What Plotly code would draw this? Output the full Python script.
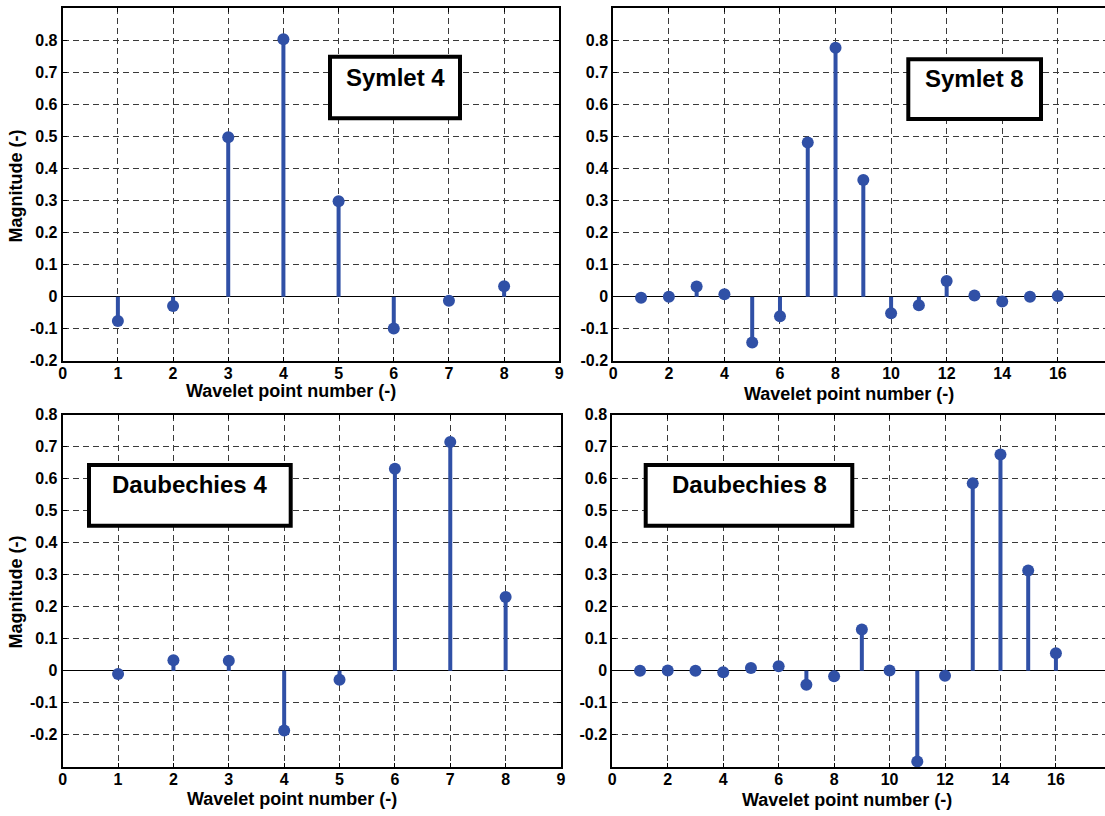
import plotly.graph_objects as go

# ---------------- data ----------------
sym4_points = [1, 2, 3, 4, 5, 6, 7, 8]
sym4_values = [-0.0758, -0.0296, 0.4976, 0.8037, 0.2979, -0.0992, -0.0126, 0.0322]

sym8_points = list(range(1, 17))
sym8_values = [-0.0034, -0.0005, 0.0317, 0.0076, -0.1433, -0.0613, 0.4814, 0.7772,
               0.3644, -0.0519, -0.0272, 0.0491, 0.0038, -0.0150, -0.0003, 0.0019]

db4_points = [1, 2, 3, 4, 5, 6, 7, 8]
db4_values = [-0.0106, 0.0329, 0.0308, -0.1870, -0.0280, 0.6309, 0.7148, 0.2304]

db8_points = list(range(1, 17))
db8_values = [-0.0001, 0.0007, -0.0004, -0.0049, 0.0087, 0.0140, -0.0441, -0.0174,
              0.1287, 0.0005, -0.2840, -0.0158, 0.5854, 0.6756, 0.3129, 0.0544]

panel_titles = ["Symlet 4", "Symlet 8", "Daubechies 4", "Daubechies 8"]
x_title = "Wavelet point number (-)"
y_title = "Magnitude (-)"

y_tick_vals = [-0.2, -0.1, 0, 0.1, 0.2, 0.3, 0.4, 0.5, 0.6, 0.7, 0.8]
y_tick_text = ["-0.2", "-0.1", "0", "0.1", "0.2", "0.3", "0.4", "0.5", "0.6", "0.7", "0.8"]
x_ticks_short = [0, 1, 2, 3, 4, 5, 6, 7, 8, 9]
x_ticks_long = [0, 2, 4, 6, 8, 10, 12, 14, 16]

# ---------------- layout helpers ----------------
W, H = 1105, 816
def px(x):
    return x / W
def py(y):
    return 1 - y / H

STEM = "#3050A6"
FONT = "Liberation Sans, Arial, Helvetica, sans-serif"

fig = go.Figure()

series = [
    (sym4_points, sym4_values, "x", "y"),
    (sym8_points, sym8_values, "x2", "y2"),
    (db4_points, db4_values, "x3", "y3"),
    (db8_points, db8_values, "x4", "y4"),
]
for pts, vals, xa, ya in series:
    sx, sy = [], []
    for p, v in zip(pts, vals):
        sx += [p, p, None]
        sy += [0, v, None]
    fig.add_trace(go.Scatter(x=sx, y=sy, mode="lines", xaxis=xa, yaxis=ya,
                             line=dict(color=STEM, width=4), hoverinfo="skip",
                             showlegend=False))
    fig.add_trace(go.Scatter(x=pts, y=vals, mode="markers", xaxis=xa, yaxis=ya,
                             marker=dict(color=STEM, size=12, line=dict(width=0)),
                             showlegend=False, cliponaxis=False))

tickfont = dict(family=FONT, size=16, color="black", weight="bold")

def xaxis(domain, rng, ticks, anchor):
    return dict(domain=domain, range=rng, anchor=anchor, automargin=False,
                tickmode="array", tickvals=ticks, ticktext=[str(t) for t in ticks],
                showgrid=True, gridcolor="#3a3a3a", gridwidth=1, griddash="6px,4px",
                zeroline=False, showline=True, linecolor="black", linewidth=2,
                mirror="ticks", ticks="inside", ticklen=4, tickcolor="black",
                tickfont=tickfont, ticklabelstandoff=-3, fixedrange=True)

def yaxis(domain, rng, anchor, mirror):
    return dict(domain=domain, range=rng, anchor=anchor, automargin=False,
                tickmode="array", tickvals=y_tick_vals, ticktext=y_tick_text,
                showgrid=True, gridcolor="#3a3a3a", gridwidth=1, griddash="6px,4px",
                zeroline=True, zerolinecolor="black", zerolinewidth=1,
                showline=True, linecolor="black", linewidth=2,
                mirror=mirror, ticks="inside", ticklen=4, tickcolor="black",
                tickfont=tickfont, fixedrange=True)

top_dom = [py(360.7), py(8.3)]
bot_dom = [py(766.7), py(414.7)]

fig.update_layout(
    width=W, height=H,
    margin=dict(l=0, r=0, t=0, b=0, autoexpand=False),
    paper_bgcolor="white", plot_bgcolor="white",
    xaxis=xaxis([px(62.7), px(559.3)], [0, 9], x_ticks_short, "y"),
    yaxis=yaxis(top_dom, [-0.2, 0.9], "x", "ticks"),
    xaxis2=xaxis([px(613.3), 1.0], [0, 17.7], x_ticks_long, "y2"),
    yaxis2=yaxis(top_dom, [-0.2, 0.9], "x2", False),
    xaxis3=xaxis([px(62.7), px(561)], [0, 9], x_ticks_short, "y3"),
    yaxis3=yaxis(bot_dom, [-0.3, 0.8], "x3", "ticks"),
    xaxis4=xaxis([px(612.3), 1.0], [0, 17.77], x_ticks_long, "y4"),
    yaxis4=yaxis(bot_dom, [-0.3, 0.8], "x4", False),
)

# label boxes
boxes = [
    (330, 56.7, 460, 118.3, 77.7),
    (908.3, 59.3, 1041, 119, 79),
    (89, 465, 290.7, 525.7, 484.3),
    (645.7, 465, 852.3, 525.7, 484.3),
]
shapes, annotations = [], []
for (x0, y0, x1, y1, ty), title in zip(boxes, panel_titles):
    shapes.append(dict(type="rect", xref="paper", yref="paper",
                       x0=px(x0), x1=px(x1), y0=py(y1), y1=py(y0),
                       line=dict(color="black", width=4), fillcolor="white",
                       layer="above"))
    annotations.append(dict(xref="paper", yref="paper", x=px((x0 + x1) / 2), y=py(ty),
                            text=title, showarrow=False, xanchor="center", yanchor="middle",
                            font=dict(family=FONT, size=24, color="black", weight="bold")))

titlefont = dict(family=FONT, size=18, color="black", weight="bold")
for cx, cy in [(291, 391.5), (848.5, 394), (291.5, 799), (847, 800)]:
    annotations.append(dict(xref="paper", yref="paper", x=px(cx), y=py(cy), text=x_title,
                            showarrow=False, xanchor="center", yanchor="middle", font=titlefont))
for cy in [185.8, 591.7]:
    annotations.append(dict(xref="paper", yref="paper", x=px(15.7), y=py(cy), text=y_title,
                            showarrow=False, xanchor="center", yanchor="middle", textangle=-90,
                            font=titlefont))

fig.update_layout(shapes=shapes, annotations=annotations)

fig.write_html(
    "out.html",
    post_script="document.documentElement.style.margin='0';document.body.style.margin='0';"
                "document.body.style.overflow='hidden';document.documentElement.style.overflow='hidden';",
)
